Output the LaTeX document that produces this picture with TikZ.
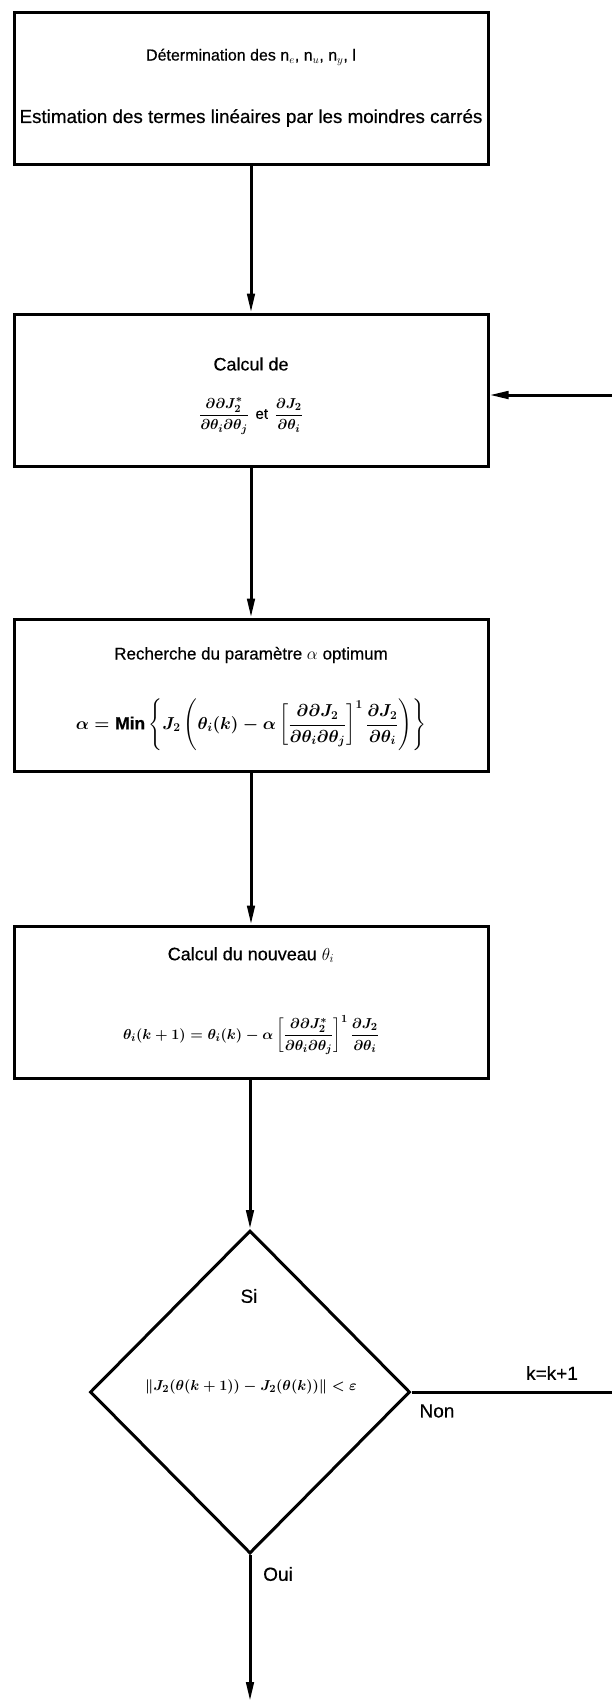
\documentclass[tikz,border=0pt]{standalone}
\usepackage{amsmath}
\usepackage{fontspec}
\setmainfont{Liberation Sans}[FakeBold=0.5]
\usetikzlibrary{arrows.meta,shapes.geometric}
\begin{document}
\begin{tikzpicture}[x=1pt,y=-1pt,
  box/.style={draw, line width=3pt, minimum width=474pt, minimum height=152pt, inner sep=0pt},
  flow/.style={line width=3pt, -{Triangle[length=19pt,width=7.5pt]}},
  txt/.style={font=\fontsize{18}{21}\selectfont, inner sep=0pt},
  mth/.style={font=\fontsize{15}{18}\selectfont\boldmath, inner sep=0pt},
  lbl/.style={font=\fontsize{19}{22}\selectfont, inner sep=0pt}]
\useasboundingbox (0,0) rectangle (612,1701);
\node[box] (b1) at (251,88) {};
\node[box] (b2) at (251,390) {};
\node[box] (b3) at (251,695) {};
\node[box] (b4) at (251,1002) {};
\node[diamond, draw, line width=3pt, minimum width=320pt, minimum height=323pt, inner sep=0pt] (d) at (250,1392) {};

\node[txt, font=\fontsize{16}{19}\selectfont] (t1a) at (251,57) {Détermination des n$_e$, n$_u$, n$_y$, l};
\node[txt, font=\fontsize{18.8}{22}\selectfont] (t1b) at (251,118) {Estimation des termes linéaires par les moindres carrés};
\node[txt] (t2a) at (251,364) {Calcul de};
\node[mth] (t2b) at (251,416) {$\dfrac{\partial\partial J_2^{*}}{\partial\theta_i\partial\theta_j}$ \,et\, $\dfrac{\partial J_2}{\partial\theta_i}$};
\node[txt, font=\fontsize{17}{20}\selectfont] (t3a) at (251,655) {Recherche du paramètre $\alpha$ optimum};
\node[mth, font=\fontsize{17.5}{20}\selectfont\boldmath] (t3b) at (251,725) {$\alpha = \mathrm{Min}\left\{J_2\left(\theta_i(k) - \alpha\left[\dfrac{\partial\partial J_2}{\partial\theta_i\partial\theta_j}\right]^{1}\dfrac{\partial J_2}{\partial\theta_i}\right)\right\}$};
\node[txt] (t4a) at (251,955) {Calcul du nouveau $\theta_i$};
\node[mth] (t4b) at (251,1035) {$\theta_i(k+1) = \theta_i(k) - \alpha\left[\dfrac{\partial\partial J_2^{*}}{\partial\theta_i\partial\theta_j}\right]^{1}\dfrac{\partial J_2}{\partial\theta_i}$};
\node[lbl] (si) at (249,1296) {Si};
\node[mth] (t5) at (251,1387) {$\left\|J_2(\theta(k+1)) - J_2(\theta(k))\right\| < \varepsilon$};
\node[lbl] (non) at (437,1411) {Non};
\node[lbl] (kk) at (552,1373) {k=k+1};
\node[lbl] (oui) at (278,1574) {Oui};

\coordinate (fin) at (250,1701);
\coordinate (c1) at (630,1392);
\coordinate (c2) at (630,395);

\draw[flow] (b1.south) -- (b2.north);
\draw[flow] (b2.south) -- (b3.north);
\draw[flow] (b3.south) -- (b4.north);
\draw[flow] (b4.south -| d.north) -- (d.north);
\draw[flow] (d.south) -- (fin);
\draw[flow] (d.east) -- (c1) -- (c2) -- (c2 -| b2.east);
\end{tikzpicture}
\end{document}
